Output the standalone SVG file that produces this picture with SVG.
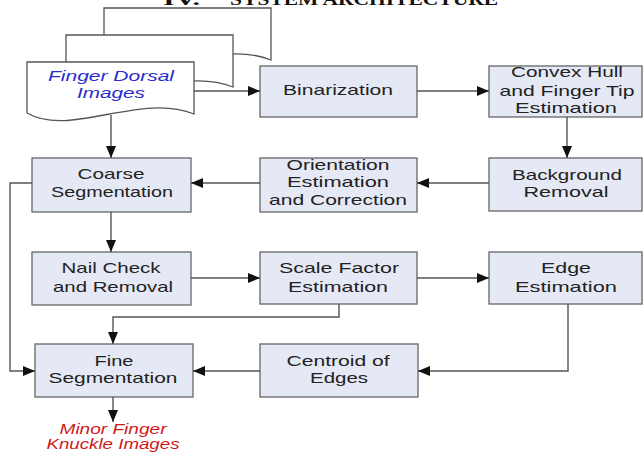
<svg xmlns="http://www.w3.org/2000/svg" width="643" height="453" viewBox="0 0 643 453">
<style>
.box{fill:#e5e9f5;stroke:#666;stroke-width:1.3}
.lbl{font-family:"Liberation Sans",Arial,sans-serif;font-size:15px;fill:#222;text-anchor:middle}
.it{font-style:italic}
.sheet{fill:#fff;stroke:#555;stroke-width:1.3}
.conn{fill:none;stroke:#555;stroke-width:1.4}
.title{font-family:"Liberation Serif","Times New Roman",serif;font-weight:bold;font-size:16px;fill:#111}
</style>
<defs>
<marker id="ah" markerUnits="userSpaceOnUse" markerWidth="12" markerHeight="10" refX="12" refY="5" orient="auto">
<path d="M0,0 L12,5 L0,10 z" fill="#111"/>
</marker>
<path id="doc" d="M27,62 H194 V114 C140,92 70,138 27,113 Z"/>
</defs>
<text class="title" y="5"><tspan x="163" textLength="37" lengthAdjust="spacingAndGlyphs">IV.</tspan><tspan x="230" textLength="268" lengthAdjust="spacingAndGlyphs">SYSTEM ARCHITECTURE</tspan></text>

<g id="finger-dorsal-images">
<use href="#doc" class="sheet" transform="translate(77,-54)"/>
<use href="#doc" class="sheet" transform="translate(39,-27)"/>
<use href="#doc" class="sheet"/>
<text class="lbl it" x="111" y="81" style="fill:#2a2ad0" textLength="126" lengthAdjust="spacingAndGlyphs">Finger Dorsal</text>
<text class="lbl it" x="111" y="98" style="fill:#2a2ad0" textLength="68" lengthAdjust="spacingAndGlyphs">Images</text>
</g>

<g id="binarization">
<rect class="box" x="260" y="66" width="157" height="51"/>
<text class="lbl" x="338" y="95" textLength="110" lengthAdjust="spacingAndGlyphs">Binarization</text>
</g>

<g id="convex-hull">
<rect class="box" x="489" y="66" width="153" height="51"/>
<text class="lbl" x="567" y="77" textLength="112" lengthAdjust="spacingAndGlyphs">Convex Hull</text>
<text class="lbl" x="567" y="96" textLength="135" lengthAdjust="spacingAndGlyphs">and Finger Tip</text>
<text class="lbl" x="566" y="113" textLength="102" lengthAdjust="spacingAndGlyphs">Estimation</text>
</g>

<g id="background-removal">
<rect class="box" x="489" y="158" width="153" height="53"/>
<text class="lbl" x="567" y="180" textLength="110" lengthAdjust="spacingAndGlyphs">Background</text>
<text class="lbl" x="566" y="197" textLength="85" lengthAdjust="spacingAndGlyphs">Removal</text>
</g>

<g id="orientation">
<rect class="box" x="260" y="158" width="157" height="54"/>
<text class="lbl" x="338" y="170" textLength="103" lengthAdjust="spacingAndGlyphs">Orientation</text>
<text class="lbl" x="338" y="187" textLength="102" lengthAdjust="spacingAndGlyphs">Estimation</text>
<text class="lbl" x="338" y="205" textLength="138" lengthAdjust="spacingAndGlyphs">and Correction</text>
</g>

<g id="coarse-segmentation">
<rect class="box" x="32" y="158" width="159" height="54"/>
<text class="lbl" x="111" y="179" textLength="67" lengthAdjust="spacingAndGlyphs">Coarse</text>
<text class="lbl" x="112" y="197" textLength="122" lengthAdjust="spacingAndGlyphs">Segmentation</text>
</g>

<g id="nail-check">
<rect class="box" x="32" y="252" width="159" height="53"/>
<text class="lbl" x="111" y="273" textLength="99" lengthAdjust="spacingAndGlyphs">Nail Check</text>
<text class="lbl" x="113" y="292" textLength="120" lengthAdjust="spacingAndGlyphs">and Removal</text>
</g>

<g id="scale-factor">
<rect class="box" x="260" y="252" width="157" height="52"/>
<text class="lbl" x="339" y="273" textLength="120" lengthAdjust="spacingAndGlyphs">Scale Factor</text>
<text class="lbl" x="338" y="292" textLength="100" lengthAdjust="spacingAndGlyphs">Estimation</text>
</g>

<g id="edge-estimation">
<rect class="box" x="489" y="252" width="153" height="52"/>
<text class="lbl" x="566" y="273" textLength="50" lengthAdjust="spacingAndGlyphs">Edge</text>
<text class="lbl" x="566" y="292" textLength="102" lengthAdjust="spacingAndGlyphs">Estimation</text>
</g>

<g id="fine-segmentation">
<rect class="box" x="35" y="344" width="158" height="53"/>
<text class="lbl" x="114" y="366" textLength="39" lengthAdjust="spacingAndGlyphs">Fine</text>
<text class="lbl" x="113" y="383" textLength="129" lengthAdjust="spacingAndGlyphs">Segmentation</text>
</g>

<g id="centroid-of-edges">
<rect class="box" x="260" y="344" width="158" height="53"/>
<text class="lbl" x="338" y="366" textLength="103" lengthAdjust="spacingAndGlyphs">Centroid of</text>
<text class="lbl" x="339" y="383" textLength="58" lengthAdjust="spacingAndGlyphs">Edges</text>
</g>

<g id="minor-finger-knuckle-images">
<text class="lbl it" x="113" y="434" style="fill:#d01818;font-size:14px" textLength="107" lengthAdjust="spacingAndGlyphs">Minor Finger</text>
<text class="lbl it" x="113" y="449" style="fill:#d01818;font-size:14px" textLength="133" lengthAdjust="spacingAndGlyphs">Knuckle Images</text>
</g>

<g id="connectors">
<path class="conn" marker-end="url(#ah)" d="M194,91 H260"/>
<path class="conn" marker-end="url(#ah)" d="M111,115 V158"/>
<path class="conn" marker-end="url(#ah)" d="M417,91 H489"/>
<path class="conn" marker-end="url(#ah)" d="M567,117 V158"/>
<path class="conn" marker-end="url(#ah)" d="M489,183 H417"/>
<path class="conn" marker-end="url(#ah)" d="M260,183 H191"/>
<path class="conn" marker-end="url(#ah)" d="M111,212 V252"/>
<path class="conn" marker-end="url(#ah)" d="M191,278 H260"/>
<path class="conn" marker-end="url(#ah)" d="M417,278 H489"/>
<path class="conn" marker-end="url(#ah)" d="M339,304 V317 H113 V344"/>
<path class="conn" marker-end="url(#ah)" d="M32,183 H10 V371 H35"/>
<path class="conn" marker-end="url(#ah)" d="M568,304 V371 H418"/>
<path class="conn" marker-end="url(#ah)" d="M260,371 H193"/>
<path class="conn" marker-end="url(#ah)" d="M113,397 V422"/>
</g>
</svg>
